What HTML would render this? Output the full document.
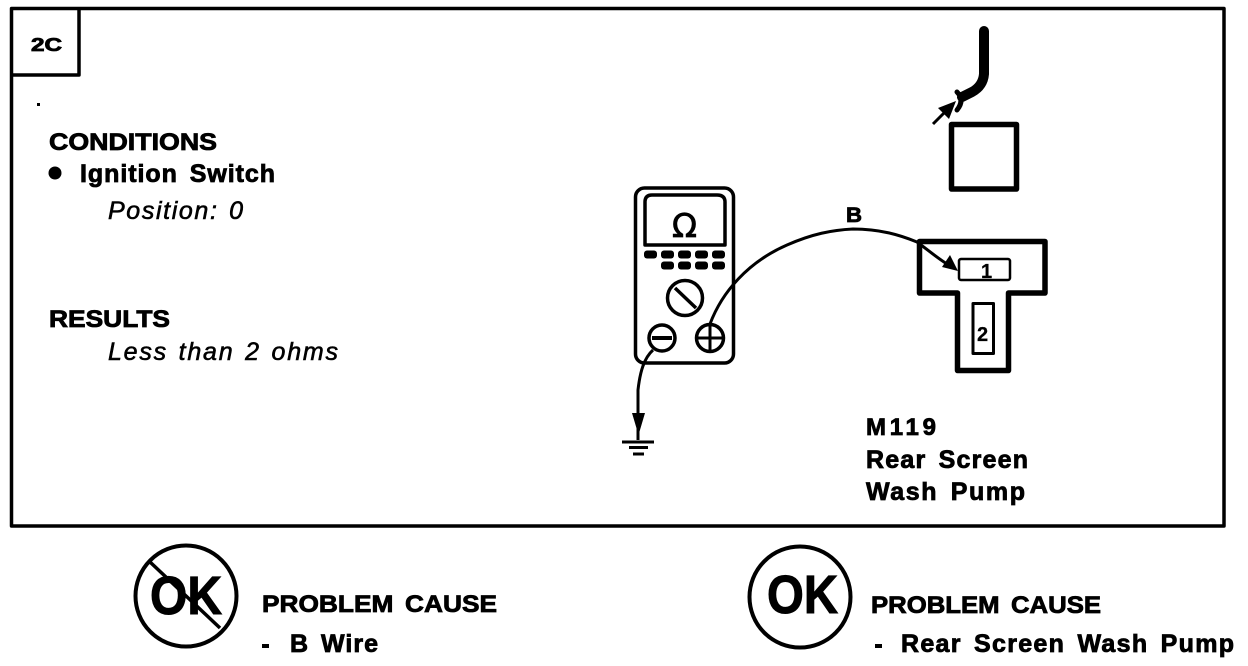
<!DOCTYPE html>
<html>
<head>
<meta charset="utf-8">
<style>
html,body{margin:0;padding:0;background:#fff;}
svg{display:block;}
text{font-family:"Liberation Sans",sans-serif;fill:#000;}
.b{font-weight:bold;font-size:24px;stroke:#000;stroke-width:.8px;}
.w{word-spacing:4px;}
.m{font-size:25px;}
.i{font-style:italic;font-size:25px;stroke:#000;stroke-width:.6px;word-spacing:2px;}
</style>
</head>
<body>
<svg width="1248" height="666" viewBox="0 0 1248 666" xmlns="http://www.w3.org/2000/svg">
<rect width="1248" height="666" fill="#fff"/>
<g fill="none" stroke="#000" stroke-linejoin="round">
  <rect x="11.5" y="8.500" width="1212.500" height="517.500" stroke-width="3.500"/>
  <path d="M12 75H79V8" stroke-width="3.500"/>
  <!-- meter -->
  <rect x="635.500" y="188" width="98" height="175" rx="9" stroke-width="3.500"/>
  <path d="M645 245V202Q645 195 652 195H717Q725 195 725 202V245Z" stroke-width="3.500"/>
  <circle cx="685" cy="298" r="17.500" stroke-width="3.500"/>
  <path d="M675 288L696 308" stroke-width="3.500"/>
  <circle cx="662" cy="338" r="13" stroke-width="3.500"/>
  <path d="M652 338H672" stroke-width="4"/>
  <circle cx="710" cy="338" r="13.500" stroke-width="3.500"/>
  <path d="M696 338H724M710 324V352" stroke-width="3"/>
  <!-- wires -->
  <path d="M710 324C722 292 748 262 787 245C812 234 832 230 853 229C880 229 900 235 917 242C928 250 936 257 947 264" stroke-width="3"/>
  <path d="M653 350C644 358 640 372 638 390V440" stroke-width="3"/>
  <path d="M622 442H654" stroke-width="3"/>
  <path d="M629 447.500H648" stroke-width="3"/>
  <path d="M633 454H644" stroke-width="3"/>
  <!-- cable -->
  <path d="M984 31V74Q983 86 972 92L962 97" stroke-width="10" stroke-linecap="round"/>
  <path d="M957 92Q965 100 957 110" stroke-width="5" stroke-linecap="round"/>
  <path d="M933 124L948 109" stroke-width="3"/>
  <!-- square -->
  <rect x="951.500" y="124.500" width="65" height="64.500" stroke-width="5.500"/>
  <!-- connector -->
  <path d="M919.500 241.500H1045V293H1008.500V370.500H957.500V293H919.500Z" stroke-width="5.500"/>
  <rect x="959" y="259" width="51" height="21" rx="2" stroke-width="2.500"/>
  <rect x="973" y="303.500" width="20.500" height="50" stroke-width="3"/>
  <!-- OK circles -->
  <circle cx="186" cy="596" r="50.500" stroke-width="4"/>
  <path d="M150 562L220 628" stroke-width="3.500"/>
  <circle cx="800" cy="597" r="50.500" stroke-width="4"/>
</g>
<g fill="#000">
  <circle cx="55" cy="173" r="6.500"/>
  <rect x="37" y="103" width="3" height="3"/>
  <rect x="644" y="250.500" width="13" height="8" rx="3"/>
  <rect x="661" y="250.500" width="13" height="8" rx="3"/>
  <rect x="678" y="250.500" width="13" height="8" rx="3"/>
  <rect x="695" y="250.500" width="13" height="8" rx="3"/>
  <rect x="712" y="250.500" width="13" height="8" rx="3"/>
  <rect x="661" y="261.500" width="13" height="8" rx="3"/>
  <rect x="678" y="261.500" width="13" height="8" rx="3"/>
  <rect x="695" y="261.500" width="13" height="8" rx="3"/>
  <rect x="712" y="261.500" width="13" height="8" rx="3"/>
  <polygon points="632,413 645,413 638.500,435"/>
  <polygon points="958,271 942,267 950,255"/>
  <polygon points="956,101 949,119 938,108"/>
  <rect x="262" y="644" width="7" height="4"/>
  <rect x="875" y="644" width="7" height="4"/>
</g>
<text class="b" x="31" y="51" style="font-size:18px" textLength="31" lengthAdjust="spacingAndGlyphs">2C</text>
<text class="b" x="49" y="150" textLength="168" lengthAdjust="spacingAndGlyphs">CONDITIONS</text>
<text class="b w m" x="80" y="182" textLength="195">Ignition Switch</text>
<text class="i" x="108" y="219" textLength="135">Position: 0</text>
<text class="b" x="49" y="327" textLength="121" lengthAdjust="spacingAndGlyphs">RESULTS</text>
<text class="i" x="108" y="360" textLength="230">Less than 2 ohms</text>
<text x="672" y="237" style="font-size:33px;font-family:'DejaVu Sans',sans-serif;stroke:#000;stroke-width:.8px" textLength="25" lengthAdjust="spacingAndGlyphs">Ω</text>
<text class="b" x="846" y="222" style="font-size:21px" textLength="16" lengthAdjust="spacingAndGlyphs">B</text>
<text class="b" x="981" y="278" style="font-size:20px;stroke-width:.3px">1</text>
<text class="b" x="977" y="341" style="font-size:20px;stroke-width:.3px">2</text>
<text class="b" x="866" y="435" textLength="70">M119</text>
<text class="b w m" x="866" y="468" textLength="162">Rear Screen</text>
<text class="b w m" x="866" y="500" textLength="159">Wash Pump</text>
<text class="b" x="150" y="614" style="font-size:54px;stroke-width:1px" textLength="72" lengthAdjust="spacingAndGlyphs">OK</text>
<text class="b" x="767" y="613" style="font-size:54px;stroke-width:1px" textLength="71" lengthAdjust="spacingAndGlyphs">OK</text>
<text class="b w" x="262" y="612" textLength="235" lengthAdjust="spacingAndGlyphs">PROBLEM CAUSE</text>
<text class="b w m" x="290" y="652" textLength="88">B Wire</text>
<text class="b w" x="871" y="613" textLength="230" lengthAdjust="spacingAndGlyphs">PROBLEM CAUSE</text>
<text class="b w m" x="901" y="652" textLength="333">Rear Screen Wash Pump</text>
</svg>
</body>
</html>
